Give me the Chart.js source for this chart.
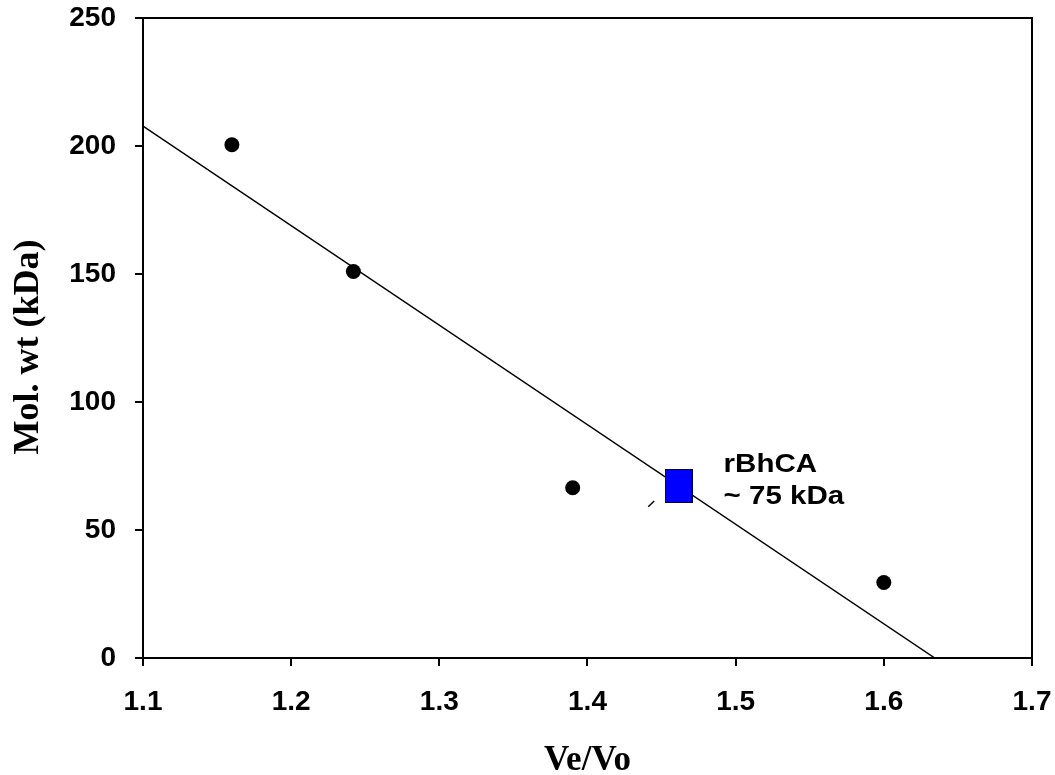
<!DOCTYPE html>
<html>
<head>
<meta charset="utf-8">
<script src="https://cdn.jsdelivr.net/npm/chart.js@4/dist/chart.umd.min.js"></script>
<style>
  html, body { margin: 0; padding: 0; background: #ffffff; }
  #wrap { width: 1055px; height: 775px; }
</style>
</head>
<body>
<div id="wrap"><canvas id="c" width="1055" height="775"></canvas></div>
<script>
// ---- data ----
const standardsVeVo = [1.16, 1.242, 1.39, 1.6];
const standardsMolWt = [200.5, 151, 66.5, 29.5];
const sampleVeVo = [1.4615];
const sampleMolWt = [67.2];
const fitVeVo = [1.1, 1.6344];
const fitMolWt = [207.8, 0];
const strayMarkVeVo = [1.441, 1.445];
const strayMarkMolWt = [59.1, 61.3];
const xTickValues = [1.1, 1.2, 1.3, 1.4, 1.5, 1.6, 1.7];
const yTickValues = [0, 50, 100, 150, 200, 250];
const annotationLines = ['rBhCA', '~ 75 kDa'];
const xTitle = 'Ve/Vo';
const yTitle = 'Mol. wt (kDa)  ';

const toPts = (xs, ys) => xs.map((x, i) => ({ x: x, y: ys[i] }));

// blue rectangle marker
const rectMarker = document.createElement('canvas');
rectMarker.width = 28; rectMarker.height = 34;
(function () {
  const g = rectMarker.getContext('2d');
  g.fillStyle = '#0000ff';
  g.fillRect(0, 0, 28, 34);
  g.strokeStyle = '#000033';
  g.lineWidth = 1;
  g.strokeRect(0.5, 0.5, 27, 33);
})();

const sans = "'Liberation Sans', Arial, sans-serif";
const serif = "'Liberation Serif', 'Times New Roman', serif";

const boxPlugin = {
  id: 'box',
  afterDraw(chart) {
    const a = chart.chartArea, ctx = chart.ctx;
    ctx.save();
    ctx.strokeStyle = '#000';
    ctx.lineWidth = 2;
    ctx.beginPath();
    ctx.moveTo(a.left, a.top);
    ctx.lineTo(a.right, a.top);
    ctx.lineTo(a.right, a.bottom);
    ctx.stroke();
    ctx.restore();
  }
};

const annotPlugin = {
  id: 'annot',
  afterDatasetsDraw(chart) {
    const meta = chart.getDatasetMeta(2);
    const p = meta.data[0];
    const ctx = chart.ctx;
    ctx.save();
    ctx.fillStyle = '#000';
    ctx.font = 'bold 25px ' + sans;
    ctx.textBaseline = 'alphabetic';
    ctx.textAlign = 'left';
    ctx.translate(p.x + 45, p.y - 14);
    ctx.scale(1.18, 1);
    ctx.fillText(annotationLines[0], 0, 0);
    ctx.fillText(annotationLines[1], 0, 32);
    ctx.restore();
  }
};

new Chart(document.getElementById('c'), {
  type: 'scatter',
  data: {
    datasets: [
      {
        label: 'fit',
        data: toPts(fitVeVo, fitMolWt),
        showLine: true,
        borderColor: '#000',
        borderWidth: 1.5,
        pointRadius: 0,
        order: 4
      },
      {
        label: 'standards',
        data: toPts(standardsVeVo, standardsMolWt),
        pointRadius: 7.5,
        pointBackgroundColor: '#000',
        pointBorderColor: '#000',
        pointBorderWidth: 0,
        order: 2
      },
      {
        label: 'rBhCA',
        data: toPts(sampleVeVo, sampleMolWt),
        pointStyle: rectMarker,
        order: 1
      },
      {
        label: 'mark',
        data: toPts(strayMarkVeVo, strayMarkMolWt),
        showLine: true,
        borderColor: '#000',
        borderWidth: 1.5,
        pointRadius: 0,
        order: 3
      }
    ]
  },
  options: {
    responsive: false,
    animation: false,
    events: [],
    layout: { padding: { top: 18, right: 23, left: 0, bottom: 0 } },
    plugins: { legend: { display: false }, tooltip: { enabled: false } },
    scales: {
      x: {
        type: 'linear',
        min: xTickValues[0],
        max: xTickValues[xTickValues.length - 1],
        afterBuildTicks(scale) { scale.ticks = xTickValues.map(v => ({ value: v })); },
        afterFit(scale) { scale.height = 117; scale.paddingLeft = 0; scale.paddingRight = 0; },
        grid: { drawOnChartArea: false, drawTicks: true, tickLength: 8, color: '#000', lineWidth: 2 },
        border: { display: true, color: '#000', width: 2 },
        ticks: {
          color: '#000',
          font: { family: sans, size: 28, weight: 'bold' },
          padding: 19,
          maxRotation: 0,
          callback: v => Number(v).toFixed(1)
        },
        title: {
          display: true,
          text: xTitle,
          color: '#000',
          font: { family: serif, size: 35, weight: 'bold', lineHeight: 0.8 },
          padding: { top: 0, bottom: 0 }
        }
      },
      y: {
        type: 'linear',
        min: yTickValues[0],
        max: yTickValues[yTickValues.length - 1],
        afterBuildTicks(scale) { scale.ticks = yTickValues.map(v => ({ value: v })); },
        afterFit(scale) { scale.width = 143; scale.paddingTop = 0; scale.paddingBottom = 0; },
        grid: { drawOnChartArea: false, drawTicks: true, tickLength: 8, color: '#000', lineWidth: 2 },
        border: { display: true, color: '#000', width: 2 },
        ticks: {
          color: '#000',
          font: { family: sans, size: 28, weight: 'bold' },
          padding: 19,
          callback: v => String(v)
        },
        title: {
          display: true,
          text: yTitle,
          color: '#000',
          font: { family: serif, size: 36, weight: 'bold', lineHeight: 1.2 },
          padding: { top: 7, bottom: 0 }
        }
      }
    }
  },
  plugins: [boxPlugin, annotPlugin]
});
</script>
</body>
</html>
